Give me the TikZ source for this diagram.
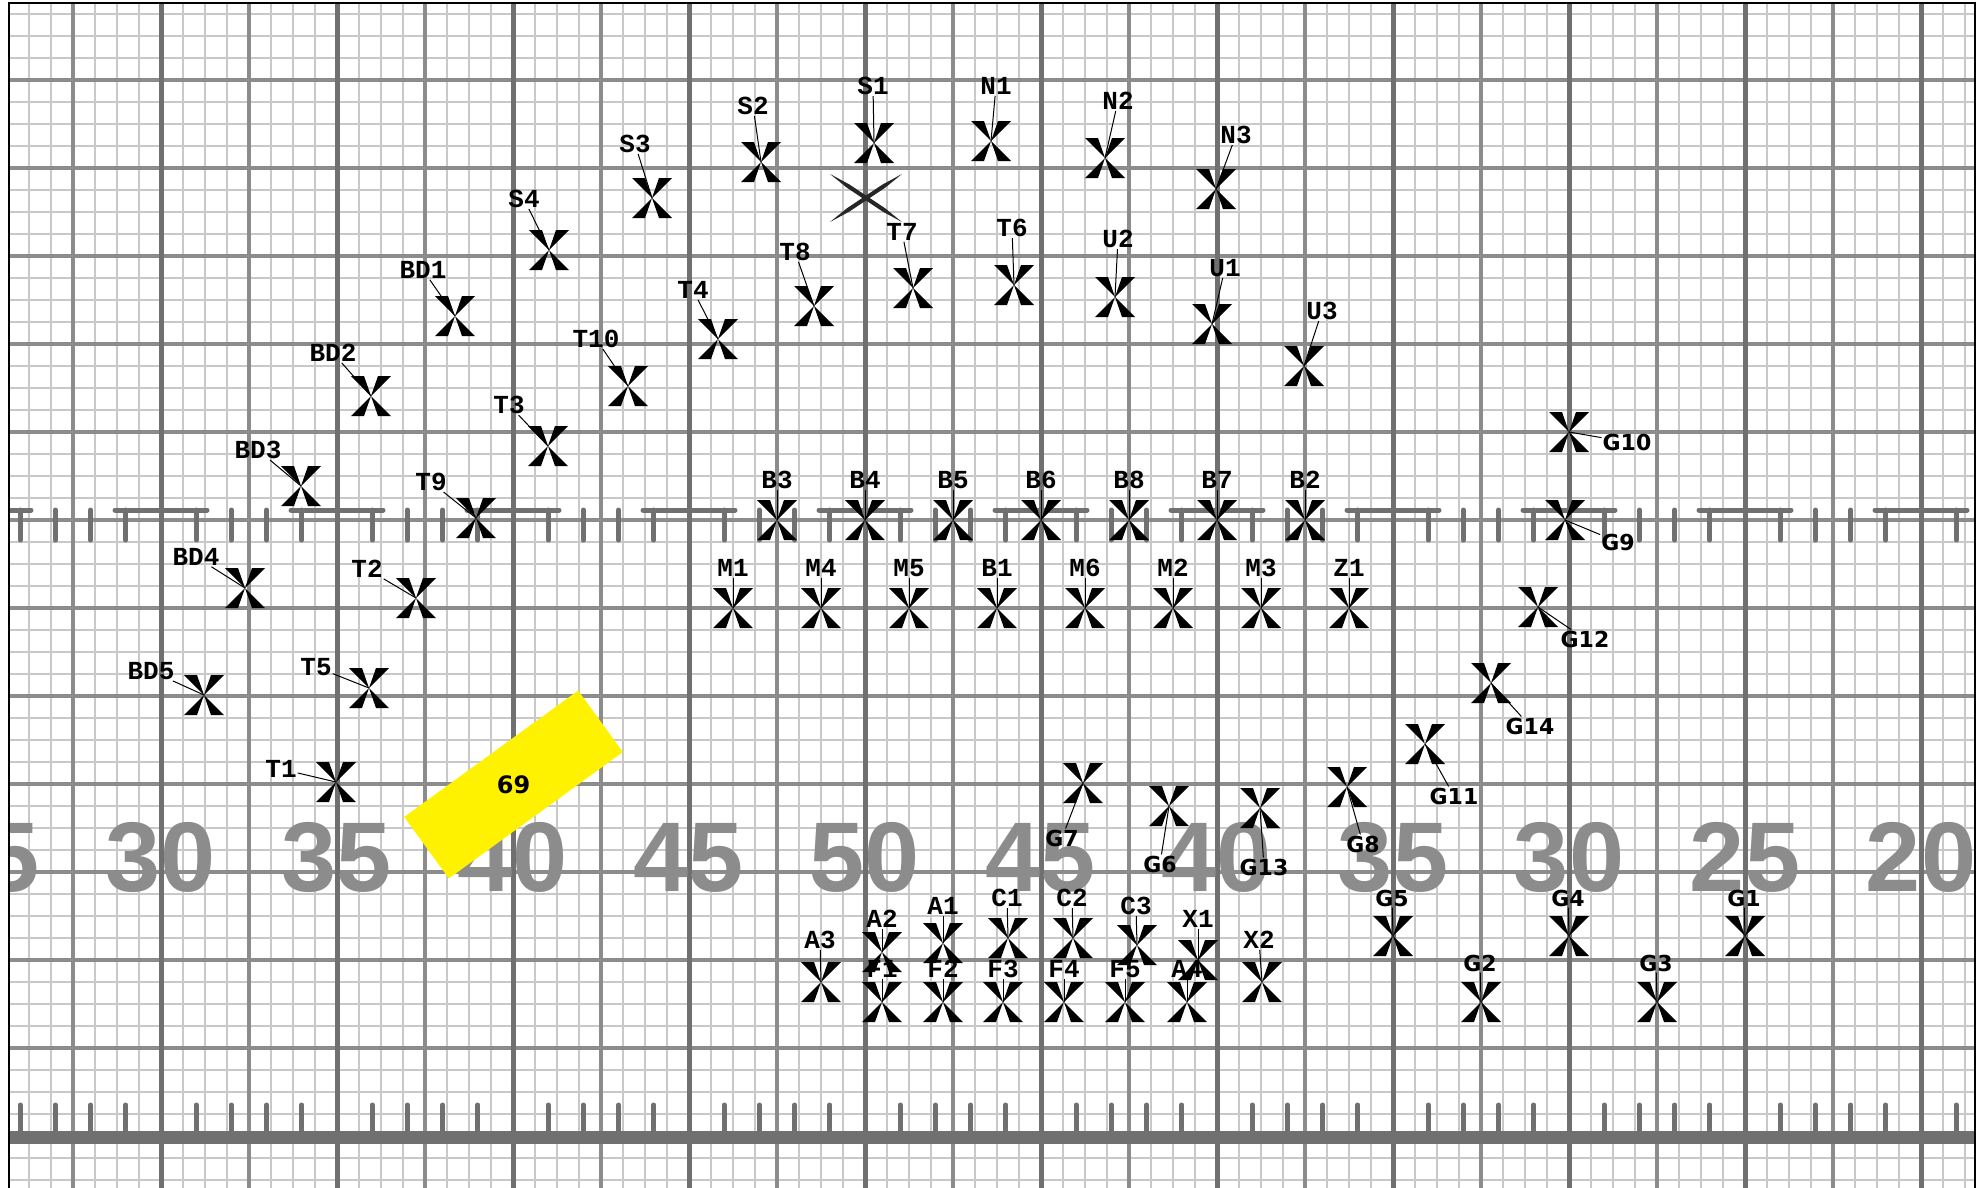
\documentclass[tikz,border=0pt]{standalone}
\usepackage{fontspec}
\newfontfamily\monof{Liberation Mono}
\newfontfamily\sansf{DejaVu Sans}
\newfontfamily\numf{Liberation Sans}
\definecolor{fineg}{HTML}{C8C8C8}
\definecolor{medg}{HTML}{8C8C8C}
\definecolor{darkg}{HTML}{707070}
\tikzset{
  finel/.style={draw=fineg, line width=2},
  medl/.style={draw=medg, line width=4},
  darkl/.style={draw=darkg, line width=5},
  tickl/.style={draw=darkg, line width=5, line cap=round},
  numtxt/.style={text=medg, anchor=base, inner sep=0, font=\numf\bfseries\fontsize{99}{99}\selectfont},
  xm/.style={minimum size=42, inner sep=0, outer sep=0, path picture={
      \coordinate (pc) at (path picture bounding box.center);
      \fill (pc) -- ++(-20,-20) -- ++(13,0) -- cycle;
      \fill (pc) -- ++(20,-20) -- ++(-13,0) -- cycle;
      \fill (pc) -- ++(-20,20) -- ++(13,0) -- cycle;
      \fill (pc) -- ++(20,20) -- ++(-13,0) -- cycle;}},
  bigxm/.style={minimum width=76, minimum height=52, inner sep=0, path picture={
      \coordinate (pc) at (path picture bounding box.center);
      \fill[black!85] ($(pc)+(-36,-24)$) -- ($(pc)+(-19.1,-10.3)$) -- ($(pc)+(16.9,13.7)$) -- ($(pc)+(36,24)$) -- ($(pc)+(19.1,10.3)$) -- ($(pc)+(-16.9,-13.7)$) -- cycle;
      \fill[black!85] ($(pc)+(36,-24)$) -- ($(pc)+(19.1,-10.3)$) -- ($(pc)+(-16.9,13.7)$) -- ($(pc)+(-36,24)$) -- ($(pc)+(-19.1,10.3)$) -- ($(pc)+(16.9,-13.7)$) -- cycle;}},
  lab/.style={inner sep=1, font=\monof\bfseries\fontsize{26}{26}\selectfont},
  glab/.style={inner sep=1, font=\sansf\bfseries\fontsize{22}{22}\selectfont},
  lead/.style={draw=black, line width=1},
}
\usetikzlibrary{calc}
\begin{document}
\begin{tikzpicture}[x=1pt, y=-1pt]
\useasboundingbox (0,0) rectangle (1984,1187);
\fill[white] (0,0) rectangle (1984,1187);
\begin{scope}
\clip (9,3) rectangle (1975,1190);
% fine grid
\foreach \i in {-39,...,50} \draw[finel] ({865+22*\i},0) -- ({865+22*\i},1190);
\foreach \i in {-2,...,51} \draw[finel] (0,{1136-22*\i}) -- (1984,{1136-22*\i});
% medium grid
\foreach \i in {0,...,12} \draw[medl] (0,{1136-88*\i}) -- (1984,{1136-88*\i});
\foreach \i in {-10,...,12} \draw[medl] ({865+88*\i},0) -- ({865+88*\i},1190);
% dark 5-yard lines
\foreach \j in {-5,...,6} \draw[darkl] ({865+176*\j},0) -- ({865+176*\j},1190);
% yard numbers
\node[numtxt] (n25a) at (-15,891) {25};
\node[numtxt] (n30a) at (161,891) {30};
\node[numtxt] (n35a) at (337,891) {35};
\node[numtxt] (n40a) at (513,891) {40};
\node[numtxt] (n45a) at (689,891) {45};
\node[numtxt] (n50) at (865,891) {50};
\node[numtxt] (n45b) at (1041,891) {45};
\node[numtxt] (n40b) at (1217,891) {40};
\node[numtxt] (n35b) at (1393,891) {35};
\node[numtxt] (n30b) at (1569,891) {30};
\node[numtxt] (n25b) at (1745,891) {25};
\node[numtxt] (n20b) at (1921,891) {20};
% hash marks and sideline ticks
\foreach \j in {-5,...,6} {
  \draw[tickl] ({865+176*\j-46},510) -- ({865+176*\j+46},510);
  \foreach \o in {1,...,4} {
    \draw[tickl] ({865+176*\j+35.2*\o},510) -- ({865+176*\j+35.2*\o},540);
    \draw[tickl] ({865+176*\j+35.2*\o},1105) -- ({865+176*\j+35.2*\o},1132);
  }
}
\draw[draw=darkg, line width=13] (0,1137) -- (1984,1137);
\end{scope}
% border
\draw[black, line width=2.5] (9,1190) -- (9,3) -- (1975,3) -- (1975,1190);
% big X
\node[bigxm] (bigx) at (866,198) {};
% markers with mono labels
\foreach \n/\x/\y/\a/\b in {
 S1/874/143/873/86, N1/991/141/996/86, N2/1105/158/1118/101, N3/1216/189/1236/135,
 S2/761/162/753/106, S3/652/198/635/144, S4/549/250/524/199,
 BD1/455/316/423/270, BD2/371/396/333/353, BD3/301/486/258/450, BD4/245/588/196/557, BD5/204/695/151/671,
 T5/369/688/316/667, T1/336/782/281/769, T2/416/598/367/569, T9/476/518/431/482, T3/548/446/509/405,
 T10/628/386/596/339, T4/718/339/693/290, T8/814/306/795/252, T7/913/288/902/232, T6/1014/285/1012/228,
 U2/1115/297/1118/239, U1/1212/324/1225/268, U3/1304/366/1322/311,
 B3/777/520/777/480, B4/865/520/865/480, B5/953/520/953/480, B6/1041/520/1041/480,
 B8/1129/520/1129/480, B7/1217/520/1217/480, B2/1305/520/1305/480,
 M1/733/608/733/568, M4/821/608/821/568, M5/909/608/909/568, B1/997/608/997/568,
 M6/1085/608/1085/568, M2/1173/608/1173/568, M3/1261/608/1261/568, Z1/1349/608/1349/568,
 A3/821/982/820/940, A2/882/952/882/919, A1/943/943/943/906, C1/1008/938/1007/898,
 C2/1073/938/1072/898, C3/1137/945/1136/906, X1/1198/960/1198/919, X2/1262/982/1259/940,
 F1/882/1002/882/969, F2/943/1002/943/969, F3/1003/1002/1003/969, F4/1064/1002/1064/969,
 F5/1125/1002/1125/969, A4/1187/1002/1187/969} {
  \node[xm] (x\n) at (\x,\y) {};
  \node[lab] (l\n) at (\a,\b) {\n};
  \draw[lead] (l\n) -- (x\n.center);
}
% markers with sans labels
\foreach \n/\x/\y/\a/\b in {
 G10/1569/432/1627/442, G9/1565/520/1618/542, G12/1538/607/1585/639, G14/1491/683/1530/726,
 G11/1425/744/1454/796, G8/1347/787/1363/844, G13/1260/808/1264/867, G6/1169/806/1160/864,
 G7/1083/783/1062/838, G5/1393/936/1392/898, G4/1569/936/1568/898, G1/1745/936/1744/898,
 G2/1481/1002/1480/963, G3/1657/1002/1656/963} {
  \node[xm] (x\n) at (\x,\y) {};
  \node[glab] (l\n) at (\a,\b) {\n};
  \draw[lead] (l\n) -- (x\n.center);
}
% yellow tag
\node[fill=yellow, rotate=36, minimum width=215, minimum height=76, inner sep=0] (box69) at (513.5,784.5) {};
\node[inner sep=0, font=\sansf\bfseries\fontsize{24}{24}\selectfont] (t69) at (box69.center) {69};
\end{tikzpicture}
\end{document}
